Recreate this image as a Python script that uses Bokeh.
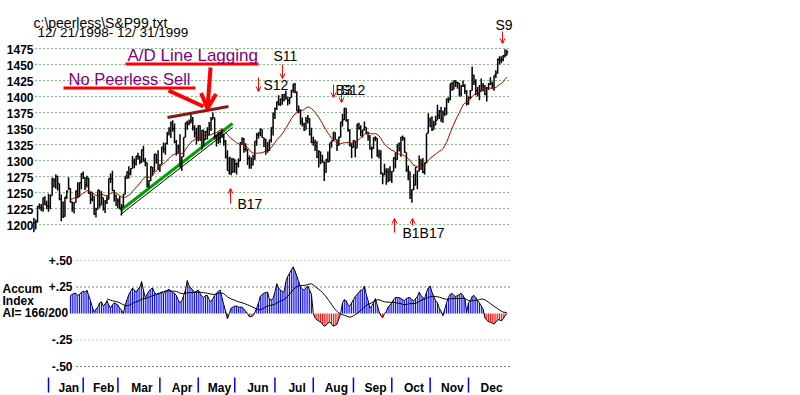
import numpy as np
import pandas as pd
from bokeh.plotting import figure
from bokeh.models import Range1d, Label, Arrow, OpenHead
from bokeh.core.properties import value
from bokeh.embed import file_html
from bokeh.resources import INLINE

# ---------------- data ----------------
pre_days = 8  # trading days of Dec 1998 shown before January
months = ["Jan", "Feb", "Mar", "Apr", "May", "Jun", "Jul", "Aug", "Sep", "Oct", "Nov", "Dec"]
month_days = [19, 19, 23, 21, 20, 22, 21, 22, 21, 21, 21, 22]

price_ticks = [1475, 1450, 1425, 1400, 1375, 1350, 1325, 1300, 1275, 1250, 1225, 1200]
ai_ticks = [0.50, 0.25, -0.25, -0.50]
ai_tick_labels = ["+.50", "+.25", "-.25", "-.50"]

closes = [
    1202.8, 1203.6, 1228.5, 1226.3, 1225.5, 1241.8, 1231.9, 1229.2,
    1228.1, 1244.8, 1272.3, 1269.7, 1275.1, 1263.9, 1239.5, 1234.4, 1212.2, 1243.3, 1252.0, 1256.6, 1235.2, 1225.2, 1234.0, 1252.3, 1243.2, 1265.4, 1279.6,
    1273.0, 1262.0, 1272.1, 1248.5, 1239.4, 1243.8, 1216.1, 1223.6, 1254.0, 1230.1, 1241.9, 1224.0, 1237.3, 1239.2, 1272.1, 1271.2, 1253.4, 1245.0, 1238.3,
    1236.2, 1225.5, 1227.7, 1246.6, 1275.5, 1282.7, 1279.8, 1286.8, 1297.7, 1294.6, 1307.3, 1306.4, 1297.8, 1316.6, 1299.3, 1297.0, 1262.1, 1268.6, 1290.0, 1282.8, 1310.2, 1300.8, 1286.4,
    1293.7, 1321.1, 1317.9, 1326.9, 1344.0, 1348.4, 1358.6, 1349.8, 1328.4, 1322.9, 1319.0, 1289.5, 1306.2, 1336.1, 1358.8, 1356.9, 1360.0, 1362.8, 1350.9, 1342.8, 1335.2,
    1354.6, 1332.0, 1347.3, 1332.1, 1345.0, 1340.3, 1355.6, 1364.0, 1367.6, 1337.8, 1339.5, 1333.3, 1344.2, 1338.8, 1330.3, 1306.7, 1284.4, 1304.8, 1281.4, 1301.8,
    1294.3, 1294.8, 1299.5, 1327.8, 1334.5, 1317.3, 1318.6, 1302.8, 1293.6, 1294.0, 1301.2, 1330.4, 1339.9, 1342.8, 1349.0, 1335.9, 1333.1, 1315.8, 1315.3, 1331.4, 1351.5, 1372.7,
    1381.0, 1391.2, 1388.1, 1395.9, 1394.4, 1403.3, 1399.1, 1393.6, 1398.2, 1409.6, 1418.8, 1407.7, 1377.1, 1379.3, 1361.0, 1356.9, 1347.8, 1362.8, 1365.4, 1341.0, 1328.7,
    1328.1, 1322.2, 1305.3, 1313.7, 1300.3, 1297.8, 1281.4, 1301.9, 1298.2, 1327.7, 1330.8, 1344.2, 1332.8, 1323.6, 1336.6, 1360.2, 1363.5, 1381.8, 1362.0, 1348.3, 1324.0, 1320.4,
    1331.1, 1319.1, 1357.2, 1350.5, 1344.2, 1347.7, 1351.7, 1344.1, 1336.3, 1318.0, 1318.5, 1335.4, 1335.5, 1307.6, 1310.5, 1280.4, 1277.4, 1283.3, 1282.2, 1268.4, 1282.7,
    1282.8, 1304.6, 1301.4, 1325.4, 1317.6, 1336.0, 1335.2, 1313.0, 1285.6, 1283.4, 1247.4, 1254.1, 1261.3, 1289.4, 1283.6, 1301.7, 1293.6, 1281.9, 1296.7, 1342.4, 1362.9,
    1354.1, 1347.7, 1354.9, 1362.6, 1370.2, 1377.0, 1365.3, 1373.5, 1381.5, 1396.1, 1394.4, 1420.1, 1410.7, 1424.9, 1422.0, 1420.9, 1404.6, 1417.1, 1416.6, 1407.8, 1388.9,
    1397.7, 1409.0, 1433.3, 1423.3, 1409.2, 1403.9, 1408.1, 1417.0, 1415.2, 1403.2, 1413.3, 1418.8, 1421.0, 1418.1, 1433.4, 1436.1, 1458.3, 1457.1, 1457.7, 1463.5, 1464.5, 1469.3,
]
highs = [
    1210, 1208, 1229, 1233, 1232, 1242, 1244, 1237,
    1248, 1247, 1273, 1272, 1278, 1276, 1264, 1247, 1236, 1243, 1253, 1274, 1257, 1236, 1235, 1253, 1266, 1266, 1280,
    1283, 1274, 1276, 1273, 1251, 1251, 1244, 1226, 1254, 1254, 1252, 1242, 1238, 1245, 1272, 1280, 1284, 1254, 1247,
    1241, 1245, 1232, 1248, 1275, 1283, 1291, 1288, 1307, 1303, 1307, 1312, 1307, 1317, 1323, 1304, 1297, 1269, 1291, 1290, 1310, 1310, 1316,
    1294, 1321, 1328, 1327, 1344, 1352, 1361, 1363, 1358, 1332, 1325, 1341, 1306, 1336, 1359, 1362, 1364, 1372, 1368, 1355, 1351,
    1355, 1355, 1348, 1348, 1346, 1352, 1360, 1368, 1375, 1367, 1340, 1345, 1344, 1350, 1342, 1332, 1316, 1305, 1304, 1304,
    1302, 1297, 1303, 1328, 1336, 1335, 1327, 1318, 1308, 1305, 1309, 1330, 1343, 1344, 1350, 1349, 1336, 1334, 1329, 1333, 1352, 1375,
    1383, 1392, 1402, 1397, 1404, 1404, 1409, 1399, 1399, 1410, 1420, 1421, 1408, 1386, 1380, 1367, 1359, 1368, 1371, 1366, 1351,
    1337, 1333, 1330, 1316, 1314, 1309, 1298, 1302, 1314, 1327, 1331, 1344, 1344, 1333, 1337, 1360, 1373, 1382, 1382, 1365, 1349, 1327,
    1332, 1331, 1357, 1359, 1355, 1348, 1361, 1352, 1345, 1340, 1322, 1336, 1338, 1335, 1317, 1316, 1281, 1295, 1288, 1288, 1291,
    1283, 1305, 1313, 1325, 1328, 1337, 1339, 1336, 1313, 1292, 1283, 1255, 1279, 1290, 1284, 1308, 1302, 1304, 1297, 1342, 1374,
    1367, 1369, 1362, 1370, 1387, 1379, 1384, 1378, 1383, 1397, 1399, 1420, 1423, 1425, 1425, 1423, 1421, 1418, 1425, 1419, 1410,
    1400, 1410, 1447, 1434, 1427, 1415, 1418, 1428, 1421, 1418, 1415, 1421, 1430, 1423, 1433, 1441, 1459, 1463, 1463, 1465, 1474, 1473,
]
lows = [
    1188, 1192, 1203, 1224, 1221, 1220, 1230, 1224,
    1220, 1224, 1245, 1258, 1256, 1253, 1238, 1205, 1210, 1212, 1240, 1254, 1234, 1220, 1217, 1234, 1241, 1243, 1255,
    1271, 1254, 1258, 1248, 1232, 1236, 1215, 1211, 1223, 1226, 1230, 1222, 1218, 1232, 1239, 1265, 1252, 1236, 1229,
    1225, 1224, 1214, 1227, 1247, 1271, 1272, 1277, 1287, 1288, 1292, 1301, 1294, 1296, 1298, 1291, 1258, 1257, 1268, 1276, 1283, 1295, 1285,
    1282, 1294, 1312, 1309, 1325, 1339, 1335, 1345, 1327, 1308, 1311, 1289, 1284, 1306, 1336, 1348, 1355, 1358, 1347, 1336, 1325,
    1330, 1331, 1317, 1323, 1332, 1333, 1340, 1346, 1364, 1333, 1322, 1326, 1327, 1335, 1323, 1303, 1284, 1278, 1277, 1281,
    1281, 1278, 1289, 1299, 1325, 1312, 1314, 1293, 1287, 1287, 1292, 1301, 1323, 1334, 1338, 1335, 1321, 1309, 1312, 1315, 1328, 1339,
    1365, 1379, 1386, 1385, 1387, 1392, 1395, 1386, 1388, 1398, 1406, 1405, 1377, 1374, 1356, 1353, 1346, 1348, 1358, 1339, 1327,
    1323, 1315, 1304, 1289, 1294, 1296, 1268, 1281, 1297, 1298, 1320, 1330, 1332, 1315, 1323, 1336, 1353, 1363, 1361, 1345, 1322, 1304,
    1320, 1305, 1319, 1348, 1338, 1336, 1347, 1341, 1331, 1317, 1303, 1318, 1330, 1306, 1303, 1278, 1263, 1277, 1262, 1266, 1268,
    1265, 1283, 1288, 1301, 1314, 1306, 1331, 1312, 1282, 1269, 1240, 1234, 1254, 1261, 1255, 1283, 1285, 1280, 1278, 1296, 1342,
    1352, 1346, 1348, 1355, 1363, 1365, 1360, 1359, 1369, 1371, 1390, 1394, 1409, 1411, 1415, 1412, 1400, 1400, 1415, 1404, 1386,
    1387, 1397, 1409, 1418, 1402, 1400, 1394, 1408, 1408, 1402, 1392, 1410, 1418, 1412, 1409, 1429, 1436, 1450, 1452, 1455, 1461, 1464,
]
ai_first_day = 20  # accumulation index starts on this trading day
ai = [
    0.17, 0.18, 0.19, 0.19, 0.17, 0.18, 0.20, 0.21, 0.20, 0.22,
    0.17, 0.12, 0.06, 0.01, 0.04, 0.06, 0.10, 0.11, 0.07, 0.09,
    0.12, 0.08, 0.05, 0.08, 0.10, 0.09, 0.08, 0.05, 0.03, 0.00,
    0.08, 0.13, 0.18, 0.21, 0.24, 0.22, 0.20, 0.23, 0.25, 0.30,
    0.22, 0.15, 0.18, 0.21, 0.23, 0.24, 0.20, 0.18, 0.19, 0.19,
    0.20, 0.19, 0.21, 0.22, 0.23, 0.21, 0.20, 0.19, 0.17, 0.13,
    0.10, 0.12, 0.17, 0.22, 0.31, 0.26, 0.24, 0.22, 0.20, 0.21,
    0.22, 0.19, 0.16, 0.15, 0.17, 0.17, 0.13, 0.11, 0.14, 0.17,
    0.19, 0.21, 0.22, 0.15, 0.08, 0.02, -0.05, 0.00, 0.05, 0.06,
    0.07, 0.07, 0.06, 0.06, 0.06, 0.04, 0.02, 0.00, -0.03, -0.03,
    -0.02, 0.01, 0.05, 0.10, 0.16, 0.18, 0.19, 0.20, 0.20, 0.13,
    0.13, 0.14, 0.20, 0.28, 0.24, 0.22, 0.21, 0.20, 0.30, 0.35,
    0.38, 0.41, 0.44, 0.40, 0.35, 0.30, 0.25, 0.23, 0.22, 0.24,
    0.26, 0.22, 0.18, 0.00, -0.04, -0.06, -0.07, -0.08, -0.10, -0.12,
    -0.11, -0.09, -0.08, -0.10, -0.12, -0.11, -0.10, -0.05, 0.00, 0.10,
    0.13, 0.12, 0.08, 0.07, 0.10, 0.13, 0.16, 0.18, 0.20, 0.22,
    0.22, 0.26, 0.18, 0.12, 0.05, 0.07, 0.10, 0.14, 0.08, 0.02,
    -0.02, -0.04, 0.00, 0.02, 0.06, 0.08, 0.10, 0.13, 0.15, 0.15,
    0.15, 0.14, 0.13, 0.12, 0.14, 0.15, 0.15, 0.13, 0.12, 0.14,
    0.16, 0.20, 0.17, 0.15, 0.14, 0.20, 0.24, 0.26, 0.20, 0.16,
    0.12, 0.10, 0.05, 0.02, -0.02, 0.04, 0.10, 0.15, 0.18, 0.19,
    0.17, 0.16, 0.17, 0.18, 0.19, 0.17, 0.14, 0.01, 0.10, 0.12,
    0.16, 0.17, 0.15, 0.12, 0.10, 0.07, 0.04, -0.04, -0.06, -0.08,
    -0.08, -0.09, -0.10, -0.08, -0.06, -0.06, -0.07, -0.05, -0.02, 0.00,
]

# ---------------- layout (page pixels) ----------------
W, H = 800, 395
OFF = 0                      # Bokeh's page template has no body margin
X0, DXP = 33.4, 1.826        # page x of day 0, px per trading day
PY0, PK = 48.0, 0.64         # page y of 1475, px per index point
AY0, AK = 313.0, 106.0       # page y of AI zero, px per AI unit
TXT_RAISE = 0.35             # svg text sits lower than its baseline by this * size


def dx(xp):
    return (xp - X0) / DXP


def dp(yp):
    return 1475 - (yp - PY0) / PK


def da(yp):
    return (AY0 - yp) / AK


FONT = "Liberation Sans"

p = figure(width=W, height=H, output_backend="svg", toolbar_location=None, tools="",
           title=None, x_axis_location=None, y_axis_location=None, min_border=0,
           x_range=Range1d(dx(OFF), dx(OFF + W)), y_range=Range1d(dp(OFF + H), dp(OFF)))
p.extra_y_ranges = {"ai": Range1d(da(OFF + H), da(OFF))}
p.outline_line_color = None
p.background_fill_color = "white"
p.border_fill_color = "white"
p.xgrid.visible = False
p.ygrid.visible = False
p.grid.visible = False

days = np.arange(len(closes))

# ---------- price grid + labels ----------
p.segment(x0=dx(35), x1=dx(510), y0=price_ticks, y1=price_ticks,
          line_color="#008000", line_dash="1 3", line_width=1)
p.text(x=[dx(33)] * len(price_ticks),
       y=[t - (5 - TXT_RAISE * 12) / PK for t in price_ticks],
       text=[str(t) for t in price_ticks], text_font=value(FONT), text_font_style="bold",
       text_font_size="12px", text_align="right", text_baseline="alphabetic", text_color="black")

# ---------- annotations behind bars ----------
p.line([dx(120), dx(232)], [dp(214), dp(127)], line_color="black", line_width=1)
p.line([dx(120), dx(232)], [dp(210), dp(123)], line_color="#00A000", line_width=3)
p.line([dx(167), dx(228)], [dp(117), dp(106)], line_color="#8B1A1A", line_width=3)

# ---------- price bars ----------
p.segment(x0=days, x1=days, y0=lows, y1=highs, line_color="black", line_width=1.5)
p.segment(x0=days, x1=days + 0.8, y0=closes, y1=closes, line_color="black", line_width=1.2)

ma = pd.Series(closes).rolling(21).mean()
p.line(days, ma, line_color="#A00000", line_width=1)


# ---------- text annotations ----------
def label(xp, yp, text, size, color="black", bold=False, align="left"):
    p.add_layout(Label(x=dx(xp), y=dp(yp - TXT_RAISE * size), text=text, text_font=FONT,
                       text_font_size=f"{size}px", text_font_style="bold" if bold else "normal",
                       text_color=color, text_align=align, text_baseline="alphabetic"))


label(33, 27, "c:\\peerless\\S&P99.txt", 14)
label(37, 37, "12/ 21/1998- 12/ 31/1999", 13.5)
label(127, 61, "A/D Line Lagging", 17, color="#800080")
label(68, 84, "No Peerless Sell", 16.5, color="#800080")

p.line([dx(125), dx(258)], [dp(63.5), dp(63.5)], line_color="red", line_width=3)
p.line([dx(63), dx(195)], [dp(87.5), dp(87.5)], line_color="red", line_width=3)
p.line([dx(168), dx(203)], [dp(90), dp(106)], line_color="red", line_width=4)
p.add_layout(Arrow(x_start=dx(210), y_start=dp(67), x_end=dx(207), y_end=dp(108),
                   line_color="red", line_width=4,
                   end=OpenHead(size=15, line_color="red", line_width=4)))

label(263, 89, "S12", 14)
label(273, 60, "S11", 14)
label(335, 94, "B3", 14)
label(340, 94, "S12", 14)
label(495, 29, "S9", 14)
label(237, 208, "B17", 14)
label(402, 237, "B1B17", 14)


def sig(xp, y0, y1):
    p.add_layout(Arrow(x_start=dx(xp), y_start=dp(y0), x_end=dx(xp), y_end=dp(y1),
                       line_color="red", line_width=1,
                       end=OpenHead(size=5, line_color="red", line_width=1)))


sig(258, 77, 91)
sig(282, 64, 78)
sig(333, 84, 97)
sig(341, 88, 102)
sig(502, 31, 43)
sig(230, 203, 188)
sig(394, 232, 218)
sig(412, 225, 218)

# ---------- Accumulation index panel ----------
ai_colors = ["#D08080", "black", "#D08080", "black"]
p.segment(x0=dx(76), x1=dx(510), y0=ai_ticks, y1=ai_ticks, line_color=ai_colors,
          line_dash="1 3", line_width=1, y_range_name="ai")
p.text(x=[dx(72)] * 4, y=[t - (4 - TXT_RAISE * 12) / AK for t in ai_ticks], text=ai_tick_labels,
       text_font=value(FONT), text_font_style="bold", text_font_size="12px",
       text_align="right", text_baseline="alphabetic", text_color="black", y_range_name="ai")

label(2, 293, "Accum", 12, bold=True)
label(2, 305, "Index", 12, bold=True)
label(2, 317, "AI= 166/200", 12, bold=True)

ai_days = np.arange(ai_first_day, ai_first_day + len(ai))
bar_colors = ["#0000FF" if v >= 0 else "#FF0000" for v in ai]
p.segment(x0=ai_days, x1=ai_days, y0=0, y1=ai, line_color=bar_colors, line_width=1,
          y_range_name="ai")
p.line(ai_days, ai, line_color="black", line_width=1, y_range_name="ai")
ai_ma = pd.Series(ai).rolling(21).mean()
p.line(ai_days, ai_ma, line_color="black", line_width=1, y_range_name="ai")

# ---------- month ticks and labels ----------
starts = list(pre_days + np.concatenate([[0], np.cumsum(month_days)[:-1]]))
ends = starts[1:] + [len(closes)]
p.segment(x0=starts, x1=starts, y0=dp(377), y1=dp(392), line_color="#0000FF", line_width=1.5)
centers = [(a + b) / 2 + 3 / DXP for a, b in zip(starts, ends)]
p.text(x=centers, y=[dp(392 - TXT_RAISE * 12)] * len(months), text=months, text_font=value(FONT),
       text_font_style="bold", text_font_size="12px", text_align="center",
       text_baseline="alphabetic", text_color="black")

open("out.html", "w").write(file_html(p, INLINE))
